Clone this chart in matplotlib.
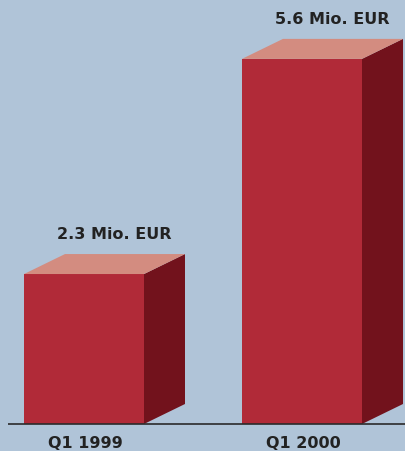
import matplotlib
matplotlib.use("Agg")
import matplotlib.pyplot as plt
from matplotlib.patches import Polygon

categories = ["Q1 1999", "Q1 2000"]
values = [2.3, 5.6]
value_labels = ["2.3 Mio. EUR", "5.6 Mio. EUR"]

BG = "#b0c4d8"
FRONT = "#b12a38"
SIDE = "#72121c"
TOP = "#d38c80"
TEXT = "#222222"

W, H = 406, 452
fig = plt.figure(figsize=(W / 100, H / 100), dpi=100, facecolor=BG)
ax = fig.add_axes([0, 0, 1, 1])
ax.set_facecolor(BG)

# x in pixel-like units, y in value units (baseline at 0)
px_per_unit = 65.2
baseline_px = 425
ax.set_xlim(0, W)
ax.set_ylim((baseline_px - H) / px_per_unit, baseline_px / px_per_unit)
ax.axis("off")

bar_left = [24, 242]
bar_width = 120
dx = 41
dy = 20 / px_per_unit

font = dict(fontsize=11.5, color=TEXT, family="DejaVu Sans", fontweight="bold")

for x0, v, cat, lab in zip(bar_left, values, categories, value_labels):
    x1 = x0 + bar_width
    ax.add_patch(Polygon([(x0, 0), (x1, 0), (x1, v), (x0, v)],
                         closed=True, facecolor=FRONT, edgecolor="none"))
    ax.add_patch(Polygon([(x1, 0), (x1 + dx, dy), (x1 + dx, v + dy), (x1, v)],
                         closed=True, facecolor=SIDE, edgecolor="none"))
    ax.add_patch(Polygon([(x0, v), (x1, v), (x1 + dx, v + dy), (x0 + dx, v + dy)],
                         closed=True, facecolor=TOP, edgecolor="none"))
    ax.text(x0 + bar_width / 2 + 30, v + dy + 13 / px_per_unit, lab,
            ha="center", va="bottom", **font)
    ax.text(x0 + bar_width / 2 + 1, -11 / px_per_unit, cat,
            ha="center", va="top", **font)

ax.plot([8, W], [0, 0], color="#2a2a2a", lw=1.2, solid_capstyle="butt")

fig.savefig("out.png", dpi=100, facecolor=BG)
